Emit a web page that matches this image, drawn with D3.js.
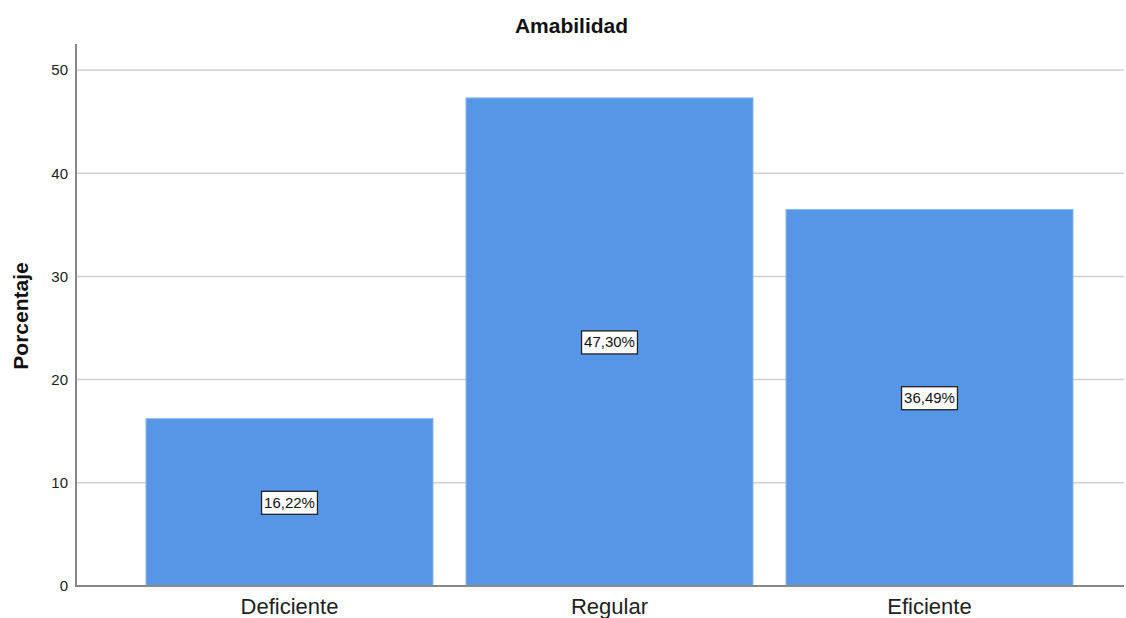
<!DOCTYPE html>
<html>
<head>
<meta charset="utf-8">
<script src="https://cdn.jsdelivr.net/npm/d3@7"></script>
<style>
  body { margin: 0; background: #fff; }
  svg { display: block; font-family: "Liberation Sans", Arial, sans-serif; }
</style>
</head>
<body>
<svg id="chart" width="1126" height="618"></svg>
<script>
// Amabilidad: percentage of responses per level
const categories = ["Deficiente", "Regular", "Eficiente"];
const percentages = [16.22, 47.30, 36.49];
const yTicks = [0, 10, 20, 30, 40, 50];

const svg = d3.select("#chart");
const axisX = 76, axisTop = 44, axisRight = 1124;

const y = d3.scaleLinear().domain([0, 50]).range([586, 70]);
const x = d3.scaleBand().domain(categories).range([129.5, 1089.5]).paddingInner(0.103).paddingOuter(0.0515);

// grid lines
svg.append("g").selectAll("line").data(yTicks.filter(d => d > 0)).join("line")
  .attr("x1", axisX).attr("x2", axisRight)
  .attr("y1", d => y(d)).attr("y2", d => y(d))
  .attr("stroke", "#d0d0d0").attr("stroke-width", 1.5);

// bars
svg.append("g").selectAll("rect").data(percentages).join("rect")
  .attr("x", (d, i) => x(categories[i]))
  .attr("y", d => y(d))
  .attr("width", x.bandwidth())
  .attr("height", d => y(0) - y(d))
  .attr("fill", "#5596e6")
  .attr("stroke", "#8dbbf0").attr("stroke-width", 1);

// y axis
const yAxis = d3.axisLeft(y).tickValues(yTicks).tickSize(0).tickPadding(8).tickFormat(d3.format("d"));
const gy = svg.append("g").attr("transform", `translate(${axisX},0)`).call(yAxis);
gy.select(".domain").remove();
gy.selectAll("text").attr("font-size", 15).attr("fill", "#222")
  .attr("font-family", "Liberation Sans, Arial, sans-serif");
svg.append("line").attr("x1", axisX).attr("x2", axisX).attr("y1", axisTop).attr("y2", y(0))
  .attr("stroke", "#888").attr("stroke-width", 2);

// x axis
const xAxis = d3.axisBottom(x).tickSize(0).tickPadding(0);
const gx = svg.append("g").attr("transform", `translate(0,${y(0)})`).call(xAxis);
gx.select(".domain").remove();
gx.selectAll("text").attr("dy", null).attr("y", 28).attr("font-size", 22).attr("fill", "#222")
  .attr("font-family", "Liberation Sans, Arial, sans-serif");
svg.append("line").attr("x1", axisX - 1).attr("x2", axisRight).attr("y1", y(0)).attr("y2", y(0))
  .attr("stroke", "#888").attr("stroke-width", 2);

// value labels at mid-height of each bar
const labels = svg.append("g").selectAll("g").data(percentages).join("g")
  .attr("transform", (d, i) => `translate(${x(categories[i]) + x.bandwidth() / 2},${y(d / 2)})`);
labels.append("text")
  .attr("text-anchor", "middle").attr("dy", "0.35em")
  .attr("font-size", 15).attr("fill", "#111")
  .text(d => d.toFixed(2).replace(".", ",") + "%");
labels.each(function() {
  const g = d3.select(this);
  const bb = g.select("text").node().getBBox();
  g.insert("rect", "text")
    .attr("x", bb.x - 2.5).attr("y", -11)
    .attr("width", bb.width + 5).attr("height", 23)
    .attr("fill", "#fff").attr("stroke", "#222").attr("stroke-width", 1.3);
});

// title
svg.append("text").attr("x", 571.5).attr("y", 33).attr("text-anchor", "middle")
  .attr("font-size", 21).attr("font-weight", "bold").attr("fill", "#111")
  .text("Amabilidad");

// y axis title
svg.append("text").attr("transform", "translate(28,316) rotate(-90)")
  .attr("text-anchor", "middle")
  .attr("font-size", 21).attr("font-weight", "bold").attr("fill", "#111")
  .text("Porcentaje");
</script>
</body>
</html>
